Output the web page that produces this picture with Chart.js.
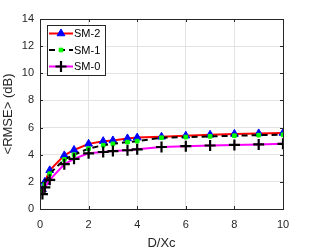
<!DOCTYPE html>
<html>
<head>
<meta charset="utf-8">
<script src="https://cdn.jsdelivr.net/npm/chart.js@4.4.0/dist/chart.umd.min.js"></script>
<style>
html,body{margin:0;padding:0;background:#fff;}
#wrap{width:312px;height:251px;}
</style>
</head>
<body>
<div id="wrap"><canvas id="c" width="312" height="251"></canvas></div>
<script>
const xValues = [0.1, 0.2, 0.4, 1, 1.4, 2, 2.6, 3, 3.6, 4, 5, 6, 7, 8, 9, 10];
const sm2 = [1.45, 2.0, 2.85, 3.95, 4.35, 4.8, 5.0, 5.05, 5.2, 5.26, 5.32, 5.4, 5.47, 5.53, 5.57, 5.6];
const sm1 = [1.3, 1.8, 2.6, 3.65, 4.0, 4.45, 4.7, 4.8, 4.93, 5.0, 5.25, 5.3, 5.35, 5.4, 5.44, 5.47];
const sm0 = [1.1, 1.6, 2.15, 3.3, 3.7, 4.1, 4.2, 4.27, 4.33, 4.4, 4.57, 4.63, 4.68, 4.72, 4.76, 4.8];
const seriesNames = ['SM-2', 'SM-1', 'SM-0'];
const xTicks = [0, 2, 4, 6, 8, 10];
const yTicks = [0, 2, 4, 6, 8, 10, 12, 14];
const xTitle = 'D/Xc';
const yTitle = '<RMSE> (dB)';

const FONT = '"Liberation Sans", Arial, sans-serif';
const AX = '#262626';

function pts(ys){ return xValues.map((x,i)=>({x:x, y:ys[i]})); }

const datasets = [
  {label: seriesNames[0], data: pts(sm2), borderColor:'#ff0000', borderWidth:2,
   pointStyle:'triangle', pointRadius:4.5, pointBackgroundColor:'#0000ff', pointBorderColor:'#0000ff', pointBorderWidth:1, order:3},
  {label: seriesNames[1], data: pts(sm1), borderColor:'#000000', borderWidth:2, borderDash:[6,4],
   pointStyle:'rect', pointRadius:2.6, pointBackgroundColor:'#00ff00', pointBorderColor:'#00ff00', pointBorderWidth:1, order:2},
  {label: seriesNames[2], data: pts(sm0), borderColor:'#ff00ff', borderWidth:2,
   pointStyle:'cross', pointRadius:5.5, pointBorderWidth:2.2, order:1,
   pointBackgroundColor:'#000', pointBorderColor:'#000'}
];

const boxPlugin = {
  id:'boxPlugin',
  afterDraw(chart){
    const ctx = chart.ctx, a = chart.chartArea;
    ctx.save();
    ctx.strokeStyle = AX; ctx.lineWidth = 1;
    ctx.strokeRect(Math.round(a.left)+0.5, Math.round(a.top)+0.5, Math.round(a.right-a.left), Math.round(a.bottom-a.top));
    const xs = chart.scales.x, ys = chart.scales.y;
    ctx.beginPath();
    xTicks.forEach(v=>{ const px = Math.round(xs.getPixelForValue(v))+0.5;
      ctx.moveTo(px, a.bottom); ctx.lineTo(px, a.bottom-3);
      ctx.moveTo(px, a.top); ctx.lineTo(px, a.top+3); });
    yTicks.forEach(v=>{ const py = Math.round(ys.getPixelForValue(v))+0.5;
      ctx.moveTo(a.left, py); ctx.lineTo(a.left+3, py);
      ctx.moveTo(a.right, py); ctx.lineTo(a.right-3, py); });
    ctx.stroke();
    // legend
    const bx=47, by=25, bw=58, bh=50;
    ctx.fillStyle='#fff'; ctx.fillRect(bx,by,bw,bh);
    ctx.strokeStyle=AX; ctx.strokeRect(bx+0.5,by+0.5,bw,bh);
    const rows=[33.5,50,66.5];
    chart.data.datasets.forEach((ds,i)=>{
      const y=rows[i];
      ctx.save();
      ctx.strokeStyle=ds.borderColor; ctx.lineWidth=2;
      ctx.setLineDash(ds.borderDash||[]);
      ctx.beginPath(); ctx.moveTo(49,y); ctx.lineTo(73,y); ctx.stroke();
      ctx.restore();
      ctx.save();
      ctx.fillStyle=ds.pointBackgroundColor; ctx.strokeStyle=ds.pointBorderColor; ctx.lineWidth=ds.pointBorderWidth;
      Chart.helpers.drawPoint(ctx, {pointStyle:ds.pointStyle, radius:ds.pointRadius, borderWidth:ds.pointBorderWidth, rotation:0}, 61, y);
      ctx.restore();
      ctx.fillStyle='#000'; ctx.font='11px '+FONT; ctx.textBaseline='middle'; ctx.textAlign='left';
      ctx.fillText(ds.label, 74, y+0.5);
    });
    ctx.restore();
  }
};

new Chart(document.getElementById('c'), {
  type:'line',
  data:{datasets:datasets},
  options:{
    responsive:false, animation:false,
    layout:{padding:{top:19, right:29, left:0, bottom:0}},
    elements:{line:{tension:0}},
    plugins:{legend:{display:false}, tooltip:{enabled:false}},
    scales:{
      x:{type:'linear', min:0, max:10,
        afterBuildTicks(s){ s.ticks = xTicks.map(v=>({value:v})); },
        afterFit(s){ s.height = 42; },
        grid:{color:'#e3e3e3', drawTicks:false, lineWidth:1},
        border:{display:false},
        ticks:{color:AX, font:{family:FONT, size:11}, padding:9, maxRotation:0},
        title:{display:true, text:xTitle, color:AX, font:{family:FONT, size:13}, padding:{top:0,bottom:0}}
      },
      y:{type:'linear', min:0, max:14,
        afterBuildTicks(s){ s.ticks = yTicks.map(v=>({value:v})); },
        afterFit(s){ s.width = 40; },
        grid:{color:'#e3e3e3', drawTicks:false, lineWidth:1},
        border:{display:false},
        ticks:{color:AX, font:{family:FONT, size:11}, padding:6},
        title:{display:true, text:yTitle, color:AX, font:{family:FONT, size:13}, padding:{top:1,bottom:2}}
      }
    }
  },
  plugins:[boxPlugin]
});
</script>
</body>
</html>
